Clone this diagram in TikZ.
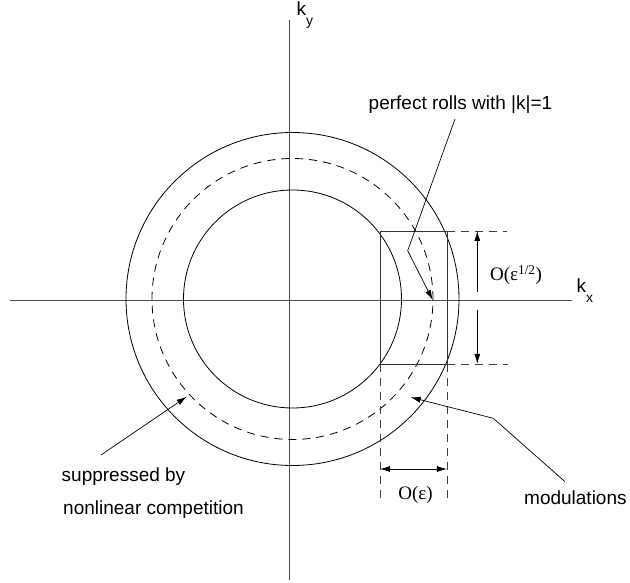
\documentclass[tikz,border=0pt]{standalone}
\usepackage{fontspec}
\setmainfont{Liberation Sans}
\newfontfamily\timesfont{Liberation Serif}
\usetikzlibrary{arrows.meta}

\tikzset{
  axis/.style={line width=1pt,black!70},
  ring/.style={line width=0.8pt},
  box/.style={line width=0.9pt,black!80},
  guide/.style={line width=0.8pt,black!75,dash pattern=on 8pt off 6pt},
  dim/.style={line width=0.8pt,{Latex[length=10pt,width=6pt]}-{Latex[length=10pt,width=6pt]}},
  tipend/.style={line width=0.8pt,-{Latex[length=10pt,width=6pt]}},
  leader/.style={line width=0.7pt,-{Latex[length=10pt,width=6pt]}},
  lbl/.style={font=\fontsize{19}{23}\selectfont,inner sep=0pt},
  olbl/.style={font=\timesfont\fontsize{19}{23}\selectfont,inner sep=0pt},
}

\begin{document}
\begin{tikzpicture}[x=1pt,y=1pt]
\useasboundingbox (-292.5,-284) rectangle (337.5,299);
% axes
\coordinate (xl) at (-282,-2); \coordinate (xr) at (279.5,-2);
\coordinate (yb) at (-2.5,-281); \coordinate (yt) at (-2.5,279);
\draw[axis] (xl) -- (xr);
\draw[axis] (yb) -- (yt);
\node[lbl,anchor=base west] (kx) at (284,6) {k\raisebox{-10pt}{\fontsize{14}{14}\selectfont x}};
\node[lbl,anchor=base west] (ky) at (4,283) {k\raisebox{-10pt}{\fontsize{14}{14}\selectfont y}};
% circles
\draw[ring] (0,0) circle (166.5);
\draw[ring,dash pattern=on 8pt off 6pt] (0,0) circle (140.5);
\draw[ring] (0,0) circle (109);
% box of modulated modes
\coordinate (bl) at (87.5,-65); \coordinate (tr) at (154.5,68);
\coordinate (br) at (bl -| tr); \coordinate (tl) at (bl |- tr);
\draw[box] (bl) rectangle (tr);
\draw[guide] (tr) -- ++(60,0);
\draw[guide] (br) -- ++(61,0);
\draw[guide] (bl) -- ++(0,-139);
\draw[guide] (br) -- ++(0,-139);
% widths
\coordinate (vtop) at (184.8,68); \coordinate (vbot) at (184.8,-65);
\coordinate (vgapt) at (184.8,7.3); \coordinate (vgapb) at (184.8,-11);
\draw[tipend] (vgapt) -- (vtop);
\draw[tipend] (vgapb) -- (vbot);
\node[olbl,anchor=base] (ohalf) at (223.5,18) {O(ε\textsuperscript{1/2})};
\coordinate (hl) at (87.5,-170); \coordinate (hr) at (154.5,-170);
\draw[dim] (hl) -- (hr);
\node[olbl,anchor=base] (oeps) at (123,-201) {O(ε)};
% labels and leaders
\node[lbl,anchor=base] (rolls) at (168,189) {perfect rolls with |k|=1};
\coordinate (rollsfoot) at (162.5,180); \coordinate (rollsbend) at (115.2,48.3);
\coordinate (rollstip) at (140.2,-1);
\draw[leader] (rollsfoot) -- (rollsbend) -- (rollstip);
\node[lbl,anchor=base west] (mod) at (231.5,-206) {modulations};
\coordinate (modfoot) at (272.5,-182.7); \coordinate (modbend) at (200.8,-119.3);
\coordinate (modtip) at (118.2,-98.3);
\draw[leader] (modfoot) -- (modbend) -- (modtip);
\node[lbl,anchor=base west] (supp) at (-231,-183) {suppressed by};
\node[lbl,anchor=base west] (supp2) at (-229.5,-216) {nonlinear competition};
\coordinate (suppfoot) at (-191.5,-156); \coordinate (supptip) at (-105.8,-97.7);
\draw[leader] (suppfoot) -- (supptip);
\end{tikzpicture}
\end{document}
